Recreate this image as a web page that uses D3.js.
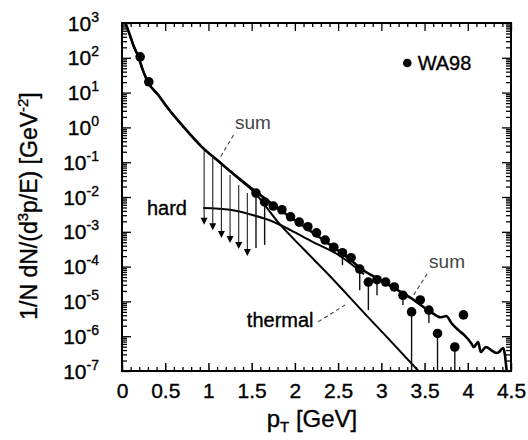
<!DOCTYPE html>
<html>
<head>
<meta charset="utf-8">
<script src="https://cdn.jsdelivr.net/npm/d3@7/dist/d3.min.js"></script>
<style>
  body { margin: 0; background: #fff; }
  svg { display: block; font-family: "Liberation Sans", Arial, Helvetica, sans-serif; }
  text.heavy { stroke: #000; stroke-width: 0.35px; }
</style>
</head>
<body>
<div id="chart"></div>
<script>
// DATA ------------------------------------------------------------------
// WA98 measured points
var dataPt  = [0.21, 0.31, 1.55, 1.65, 1.75, 1.85, 1.95, 2.05, 2.15, 2.25, 2.35, 2.45, 2.55,
               2.65, 2.75, 2.85, 2.95, 3.05, 3.15, 3.25, 3.35, 3.45, 3.55, 3.65, 3.85, 3.95];
var dataVal = [107, 20.4, 1.3e-2, 7.2e-3, 5.5e-3, 4.3e-3, 2.7e-3, 1.9e-3, 1.4e-3, 9.3e-4, 5.8e-4, 3.6e-4, 2.5e-4,
               1.8e-4, 8.5e-5, 3.6e-5, 4.2e-5, 3.6e-5, 2.6e-5, 1.5e-5, 5.0e-6, 1.1e-5, 5.6e-6, 1.2e-6, 4.9e-7, 4.1e-6];
// lower end of error bar (0 = none visible)
var dataLo  = [0, 0, 3.4e-4, 4.2e-4, 0, 0, 0, 0, 0, 0, 0, 0, 1.1e-4,
               0, 2.1e-5, 5.6e-6, 1.5e-5, 0, 0, 7.9e-6, 1e-7, 0, 2.4e-6, 1e-7, 1e-7, 0];

// upper limits (arrows)
var ulPt  = [0.95, 1.05, 1.15, 1.25, 1.35, 1.45];
var ulTop = [0.26, 0.16, 0.083, 0.043, 0.022, 0.013];
var ulBot = [1.6e-3, 1.1e-3, 6.6e-4, 4.8e-4, 3.2e-4, 2.0e-4];

// model curves
var sumPt  = [0.04, 0.09, 0.13, 0.19, 0.24, 0.30, 0.42, 0.53, 0.71, 0.92, 1.14, 1.33, 1.52, 1.72, 1.90,
              2.10, 2.41, 2.60, 2.80, 2.99, 3.19, 3.34, 3.57, 3.69, 3.75, 3.81, 3.89, 3.96, 4.04, 4.07,
              4.12, 4.15, 4.21, 4.27, 4.33, 4.36, 4.41, 4.45];
var sumVal = [1000, 457, 234, 105, 45, 20, 8.5, 3.6, 1.05, 0.28, 0.095, 0.038, 0.016, 6.8e-3, 3.2e-3,
              1.45e-3, 4.2e-4, 1.9e-4, 7.6e-5, 4.1e-5, 2.1e-5, 1.26e-5, 5.0e-6, 3.5e-6, 3.8e-6, 2.4e-6, 1.5e-6, 1.07e-6, 6.3e-7, 4.9e-7,
              6.8e-7, 3.5e-7, 4.9e-7, 4.0e-7, 3.3e-7, 3.5e-7, 4.6e-7, 1.0e-7];

var thermalPt  = [0.04, 0.09, 0.13, 0.19, 0.24, 0.30, 0.42, 0.53, 0.71, 0.92, 1.14, 1.33, 1.52, 1.83, 2.10, 2.41, 2.80, 3.10, 3.43];
var thermalVal = [1000, 457, 234, 105, 45, 20, 8.5, 3.6, 1.05, 0.28, 0.095, 0.037, 0.0145, 1.6e-3, 3.2e-4, 5.2e-5, 4.7e-6, 7.6e-7, 1.0e-7];

var hardPt  = [0.94, 1.25, 1.52, 1.75, 1.95, 2.20, 2.50, 2.80];
var hardVal = [4.8e-3, 4.3e-3, 3.0e-3, 1.95e-3, 1.12e-3, 5.2e-4, 2.2e-4, 6.0e-5];

var xTicks = [0, 0.5, 1, 1.5, 2, 2.5, 3, 3.5, 4, 4.5];
var yExps  = [3, 2, 1, 0, -1, -2, -3, -4, -5, -6, -7];

// SVG -------------------------------------------------------------------
var width = 528, height = 440;
var svg = d3.select("#chart").append("svg")
	.attr("width", width)
	.attr("height", height);

var x = d3.scaleLinear().domain([0, 4.5]).range([122, 511]);
var y = d3.scaleLog().domain([1e-7, 1e3]).range([371, 23]);

var plot = svg.append("g");
plot.append("clipPath").attr("id", "clip")
	.append("rect")
	.attr("x", x(0)).attr("y", y(1e3))
	.attr("width", x(4.5) - x(0)).attr("height", y(1e-7) - y(1e3));

// minor tick positions
var xMinor = d3.range(0, 45).map(function(i) { return i / 10; })
	.filter(function(v) { return Math.round(v * 10) % 5 !== 0; });
var yMinor = [];
for (var e = -7; e < 3; e++) {
	for (var m = 2; m <= 9; m++) yMinor.push(m * Math.pow(10, e));
}
var yMajor = yExps.map(function(d) { return Math.pow(10, d); });

function tickAxis(axisFn, scale, values, size, tx, ty) {
	var g = svg.append("g")
		.attr("transform", "translate(" + tx + "," + ty + ")")
		.call(axisFn(scale).tickValues(values).tickSize(size).tickSizeOuter(0).tickFormat(""));
	g.select(".domain").remove();
	g.selectAll("line").attr("stroke", "#000").attr("stroke-width", 1.3);
	return g;
}

// bottom/top
var xb = svg.append("g")
	.attr("transform", "translate(0," + y(1e-7) + ")")
	.call(d3.axisBottom(x).tickValues(xTicks).tickSize(-8).tickSizeOuter(0).tickPadding(12)
		.tickFormat(function(d) { return d; }));
xb.select(".domain").remove();
xb.selectAll("line").attr("stroke", "#000").attr("stroke-width", 1.5);
xb.selectAll("text").attr("font-size", 21).attr("fill", "#000").attr("class", "heavy")
	.attr("font-family", "Liberation Sans, Arial, sans-serif");
tickAxis(d3.axisBottom, x, xMinor, -4, 0, y(1e-7));
tickAxis(d3.axisTop, x, xTicks, -8, 0, y(1e3));
tickAxis(d3.axisTop, x, xMinor, -4, 0, y(1e3));

// left/right
tickAxis(d3.axisLeft, y, yMajor, -9, x(0), 0);
tickAxis(d3.axisLeft, y, yMinor, -5, x(0), 0);
tickAxis(d3.axisRight, y, yMajor, -9, x(4.5), 0);
tickAxis(d3.axisRight, y, yMinor, -5, x(4.5), 0);

// y tick labels with superscripts
var yl = svg.append("g").selectAll("text")
	.data(yExps)
	.enter()
	.append("text")
	.attr("class", "heavy")
	.attr("x", 99)
	.attr("y", function(d) { return y(Math.pow(10, d)) + 7.5; })
	.attr("text-anchor", "end")
	.attr("font-size", 21);
yl.append("tspan").text("10");
yl.append("tspan")
	.attr("font-size", 14)
	.attr("dy", -9)
	.text(function(d) { return d; });

// frame
svg.append("rect")
	.attr("x", x(0)).attr("y", y(1e3))
	.attr("width", x(4.5) - x(0)).attr("height", y(1e-7) - y(1e3))
	.attr("fill", "none").attr("stroke", "#000").attr("stroke-width", 2);

// curves
function curveLine(pts, vals) {
	return d3.line()
		.x(function(d, i) { return x(pts[i]); })
		.y(function(d, i) { return y(vals[i]); })
		.curve(d3.curveMonotoneX)(vals);
}
var curves = plot.append("g").attr("clip-path", "url(#clip)");
curves.append("path").attr("d", curveLine(thermalPt, thermalVal))
	.attr("fill", "none").attr("stroke", "#000").attr("stroke-width", 2);
curves.append("path").attr("d", curveLine(hardPt, hardVal))
	.attr("fill", "none").attr("stroke", "#000").attr("stroke-width", 2);
curves.append("path").attr("d", curveLine(sumPt, sumVal))
	.attr("fill", "none").attr("stroke", "#000").attr("stroke-width", 2.6)
	.attr("stroke-linejoin", "round");

// upper limits
var ul = plot.append("g");
ul.selectAll("line")
	.data(ulPt)
	.enter()
	.append("line")
	.attr("x1", function(d) { return x(d); })
	.attr("x2", function(d) { return x(d); })
	.attr("y1", function(d, i) { return y(ulTop[i]); })
	.attr("y2", function(d, i) { return y(ulBot[i]) - 5; })
	.attr("stroke", "#222").attr("stroke-width", 1.1);
ul.selectAll("path")
	.data(ulPt)
	.enter()
	.append("path")
	.attr("d", function(d, i) {
		var px = x(d), py = y(ulBot[i]);
		return "M" + (px - 3.5) + "," + (py - 7) + "L" + (px + 3.5) + "," + (py - 7) + "L" + px + "," + py + "Z";
	})
	.attr("fill", "#000");

// error bars
var idx = d3.range(dataPt.length).filter(function(i) { return dataLo[i] > 0; });
plot.append("g").selectAll("line")
	.data(idx)
	.enter()
	.append("line")
	.attr("x1", function(i) { return x(dataPt[i]); })
	.attr("x2", function(i) { return x(dataPt[i]); })
	.attr("y1", function(i) { return y(dataVal[i]); })
	.attr("y2", function(i) { return y(dataLo[i]); })
	.attr("stroke", "#111").attr("stroke-width", 1.4);

// data points
plot.append("g").selectAll("circle")
	.data(dataPt)
	.enter()
	.append("circle")
	.attr("cx", function(d) { return x(d); })
	.attr("cy", function(d, i) { return y(dataVal[i]); })
	.attr("r", 4.8)
	.attr("fill", "#000");

// annotations
var ann = svg.append("g");
function label(txt, px, val, col, size, cls) {
	ann.append("text")
		.attr("class", cls)
		.attr("x", x(px)).attr("y", y(val))
		.attr("text-anchor", "middle")
		.attr("font-size", size)
		.attr("fill", col)
		.text(txt);
}
function leader(x1, v1, x2, v2) {
	ann.append("line")
		.attr("x1", x(x1)).attr("y1", y(v1))
		.attr("x2", x(x2)).attr("y2", y(v2))
		.attr("stroke", "#444").attr("stroke-width", 1.1)
		.attr("stroke-dasharray", "4,3");
}
label("sum", 1.515, 0.9, "#444", 19, "");
leader(1.29, 0.6, 1.13, 0.13);
label("hard", 0.52, 3.0e-3, "#000", 20, "heavy");
label("thermal", 1.83, 1.8e-6, "#000", 20, "heavy");
leader(2.27, 2.6e-6, 2.58, 7.9e-6);
label("sum", 3.76, 9.1e-5, "#444", 19, "");
leader(3.53, 6.2e-5, 3.36, 1.35e-5);

// legend
ann.append("circle").attr("cx", x(3.3)).attr("cy", y(71)).attr("r", 4.3).attr("fill", "#000");
ann.append("text").attr("class", "heavy").attr("x", x(3.42)).attr("y", y(45))
	.attr("font-size", 20).text("WA98");

// axis titles
var xt = svg.append("text")
	.attr("class", "heavy")
	.attr("x", 312).attr("y", 427)
	.attr("text-anchor", "middle")
	.attr("font-size", 24);
xt.append("tspan").text("p");
xt.append("tspan").attr("font-size", 15).attr("dy", 5).text("T");
xt.append("tspan").attr("dy", -5).text(" [GeV]");

var yt = svg.append("text")
	.attr("class", "heavy")
	.attr("transform", "translate(37,206) rotate(-90)")
	.attr("text-anchor", "middle")
	.attr("font-size", 23);
yt.append("tspan").text("1/N dN/(d");
yt.append("tspan").attr("font-size", 15).attr("dy", -9).text("3");
yt.append("tspan").attr("dy", 9).text("p/E) [GeV");
yt.append("tspan").attr("font-size", 15).attr("dy", -9).text("-2");
yt.append("tspan").attr("dy", 9).text("]");
</script>
</body>
</html>
